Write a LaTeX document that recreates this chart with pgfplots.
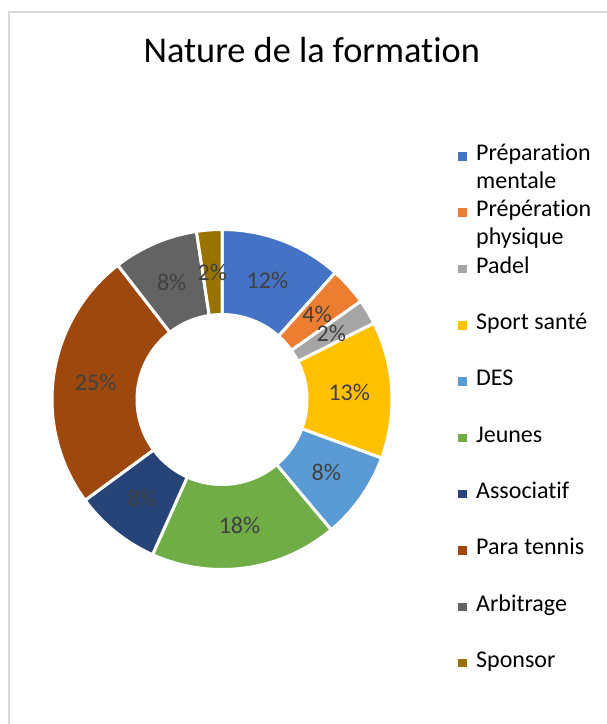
\documentclass[border=0pt]{standalone}
\usepackage{fontspec}
\setmainfont[Ligatures={NoCommon,NoContextual}]{Carlito}
\usepackage{pgfplots}
\usepackage{pgfplotstable}
\pgfplotsset{compat=1.18}

\definecolor{s0}{HTML}{4472C4}
\definecolor{s1}{HTML}{ED7D31}
\definecolor{s2}{HTML}{A5A5A5}
\definecolor{s3}{HTML}{FFC000}
\definecolor{s4}{HTML}{5B9BD5}
\definecolor{s5}{HTML}{70AD47}
\definecolor{s6}{HTML}{264478}
\definecolor{s7}{HTML}{9E480E}
\definecolor{s8}{HTML}{636363}
\definecolor{s9}{HTML}{997300}
\definecolor{framegray}{HTML}{D9D9D9}
\definecolor{lbl}{HTML}{404040}

% share of each kind of training, in %, clockwise from the top
\pgfplotstableread{
value
11.6
3.6
2.4
13.0
8.3
17.8
8.2
24.6
8.1
2.4
}\slices

\newcommand\lblfont{\fontsize{24}{28}\selectfont}
\newcommand\lent[1]{\parbox[t][56.3pt][t]{125pt}{\raggedright\strut#1}}

% donut geometry (axis units = pixels)
\def\cx{222}
\def\cy{324.5}
\def\rout{170}
\def\rin{86.5}
\def\rlab{127.5}

\begin{document}
\begin{tikzpicture}
\begin{axis}[
  at={(0pt,0pt)}, anchor=south west,
  width=607pt, height=724pt, scale only axis,
  xmin=0, xmax=607, ymin=0, ymax=724,
  hide axis, clip=false,
  title={Nature de la formation},
  title style={at={(0.5135,0.9057)}, anchor=base, inner sep=0pt,
    font=\fontsize{36.3}{43}\selectfont},
  legend image code/.code={\fill[#1,draw=none] (0pt,0pt) rectangle (8.5pt,8.5pt);},
  legend style={draw=none, fill=none, at={(0.7550,0.8054)}, anchor=north west,
    inner sep=0pt, row sep=0pt, column sep=9.2pt, cells={anchor=base west},
    nodes={inner sep=0pt, text depth=, text height=}, font=\lblfont},
  legend entries={{\lent{Préparation\\mentale}},{\lent{Prépération\\physique}},
    {\lent{Padel}},{\lent{Sport santé}},{\lent{DES}},{\lent{Jeunes}},
    {\lent{Associatif}},{\lent{Para tennis}},{\lent{Arbitrage}},{\lent{Sponsor}}},
]
% chart area border
\draw[framegray, line width=1.7pt] (axis cs:8.8,-20) |- (axis cs:640,712.2);

\gdef\cum{0}
\pgfplotsinvokeforeach{0,...,9}{
  \pgfplotstablegetelem{#1}{value}\of\slices
  \let\val\pgfplotsretval
  \pgfmathsetmacro\aS{90-3.6*\cum}
  \pgfmathsetmacro\aE{90-3.6*(\cum+\val)}
  \pgfmathsetmacro\nc{\cum+\val}
  \xdef\cum{\nc}
  \edef\tmp{\noexpand\addplot[fill=s#1, draw=white, line width=3pt,
      domain=\aE:\aS, samples=100]
    ({\cx+\rout*cos(x)},{\cy+\rout*sin(x)}) -- (axis cs:\cx,\cy) -- cycle;}
  \tmp
}

% hole
\addplot[fill=white, draw=none, domain=0:360, samples=150, forget plot]
  ({\cx+\rin*cos(x)},{\cy+\rin*sin(x)}) -- cycle;

% data labels
\gdef\cum{0}
\pgfplotsinvokeforeach{0,...,9}{
  \pgfplotstablegetelem{#1}{value}\of\slices
  \let\val\pgfplotsretval
  \pgfmathsetmacro\aM{90-3.6*(\cum+\val/2)}
  \pgfmathsetmacro\lx{\cx+\rlab*cos(\aM)}
  \pgfmathsetmacro\ly{\cy+\rlab*sin(\aM)}
  \pgfmathtruncatemacro\pct{round(\val)}
  \pgfmathsetmacro\nc{\cum+\val}
  \xdef\cum{\nc}
  \edef\tmp{\noexpand\node[text=lbl, font=\noexpand\lblfont, inner sep=0pt]
    at (axis cs:\lx,\ly) {\pct\noexpand\%};}
  \tmp
}
\end{axis}
\pgfresetboundingbox
\path[use as bounding box] (0pt,0pt) rectangle (607pt,724pt);
\end{tikzpicture}
\end{document}
